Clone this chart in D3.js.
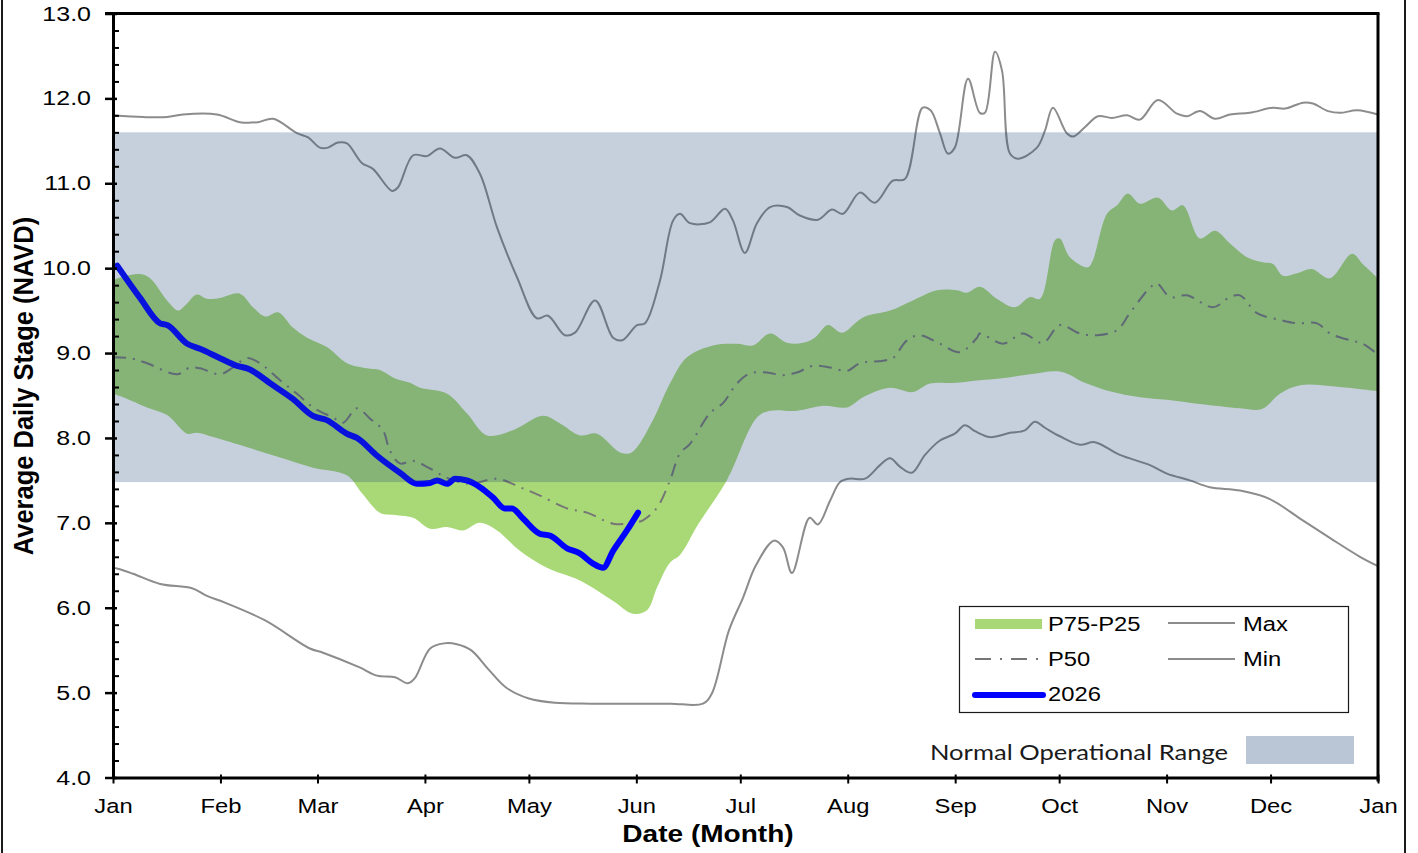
<!DOCTYPE html>
<html>
<head>
<meta charset="utf-8">
<script src="https://cdn.jsdelivr.net/npm/d3@7"></script>
<style>
    html, body { margin: 0; padding: 0; background: #ffffff; }
    svg { display: block; }
</style>
</head>
<body>
<svg id="chart"></svg>
<script>
// ---- data (day of year, stage in ft NAVD) ----
const monthLabels = ['Jan', 'Feb', 'Mar', 'Apr', 'May', 'Jun', 'Jul', 'Aug', 'Sep', 'Oct', 'Nov', 'Dec', 'Jan'];
const monthStartDays = [0, 31, 59, 90, 120, 151, 181, 212, 243, 273, 304, 334, 365];
const yTicks = [4, 5, 6, 7, 8, 9, 10, 11, 12, 13];
const normalRange = [7.48, 11.6];

const maxStage = [[0, 11.80], [8.7, 11.78], [15.6, 11.78], [20.2, 11.81], [30, 11.81], [36.6, 11.72], [41.8, 11.72], [46.2, 11.76], [53.1, 11.59], [56.3, 11.54], [59.7, 11.42], [62, 11.42], [64.9, 11.48], [67.5, 11.47], [71.8, 11.24], [75, 11.17], [80.5, 10.91], [82.2, 10.95], [86.6, 11.33], [90.6, 11.32], [94.3, 11.41], [98.7, 11.30], [102.1, 11.33], [105.9, 11.11], [110.8, 10.48], [116.6, 9.89], [122.3, 9.41], [125.5, 9.44], [130.4, 9.21], [133.3, 9.24], [139.1, 9.62], [144.3, 9.18], [146.9, 9.15], [151.2, 9.33], [153.5, 9.35], [157.8, 9.85], [161.6, 10.56], [163.6, 10.64], [166.5, 10.53], [172.2, 10.54], [176.6, 10.70], [178.9, 10.56], [182.3, 10.18], [185.8, 10.53], [189.6, 10.72], [194.5, 10.72], [198.2, 10.62], [203.4, 10.57], [207.4, 10.69], [210.6, 10.64], [215.5, 10.89], [219.8, 10.77], [225, 11.03], [228.5, 11.05], [233.6, 11.89], [235.9, 11.86], [238.6, 11.59], [240.9, 11.35], [242.9, 11.42], [246.7, 12.23], [250.1, 11.83], [251.6, 11.83], [254.5, 12.55], [256.5, 12.33], [258.8, 11.35], [261.1, 11.29], [266.6, 11.42], [268.9, 11.62], [271.2, 11.89], [275.2, 11.59], [277, 11.55], [280.4, 11.66], [284.2, 11.79], [288.2, 11.77], [292.6, 11.80], [296.3, 11.75], [301.5, 11.98], [307, 11.82], [309.9, 11.79], [313.6, 11.85], [318, 11.76], [322.3, 11.81], [328, 11.83], [334.7, 11.89], [338.2, 11.88], [343.4, 11.95], [346.2, 11.94], [350.6, 11.85], [354.1, 11.83], [359, 11.86], [365, 11.81]];

const minStage = [[0, 6.47], [1.4, 6.46], [5.8, 6.40], [13.6, 6.28], [22.8, 6.23], [27.1, 6.14], [32.3, 6.06], [43.9, 5.85], [56.8, 5.52], [60.6, 5.47], [71, 5.30], [76.2, 5.20], [81.4, 5.18], [85.1, 5.11], [87.1, 5.17], [91.5, 5.52], [95.5, 5.58], [99.2, 5.57], [103.3, 5.50], [108.2, 5.28], [113.4, 5.06], [120, 4.93], [127.5, 4.88], [137.9, 4.87], [150.9, 4.87], [161, 4.87], [170.2, 4.87], [172.8, 4.99], [177.7, 5.73], [181.8, 6.12], [185.5, 6.50], [190.7, 6.79], [193.3, 6.71], [195.9, 6.41], [201, 7.06], [203.4, 6.98], [206.9, 7.26], [209.8, 7.48], [212.6, 7.52], [217, 7.52], [221.3, 7.68], [224.2, 7.76], [227.1, 7.66], [230.5, 7.59], [234.3, 7.80], [238.6, 7.97], [242.9, 8.05], [245.8, 8.15], [248.7, 8.08], [253, 8.01], [258.8, 8.06], [263.1, 8.09], [266, 8.19], [268.9, 8.12], [273.2, 8.02], [279, 7.92], [283.3, 7.95], [290.5, 7.80], [299.2, 7.68], [304.1, 7.58], [310.7, 7.50], [316.5, 7.42], [325.2, 7.38], [333.8, 7.28], [342.5, 7.05], [351.2, 6.82], [359.8, 6.60], [365, 6.49]];

const p75Stage = [[0, 9.85], [1.4, 9.88], [7.8, 9.93], [10.7, 9.88], [15.6, 9.62], [18.8, 9.50], [20.8, 9.56], [24.2, 9.69], [27.1, 9.64], [30.9, 9.65], [36.6, 9.70], [40.4, 9.54], [43.9, 9.43], [47.6, 9.48], [51.9, 9.30], [56, 9.18], [61.7, 9.07], [67.5, 8.88], [73.3, 8.82], [77, 8.80], [81.4, 8.70], [85.7, 8.65], [88.6, 8.59], [96.4, 8.52], [102.1, 8.29], [107.9, 8.03], [115.4, 8.09], [124.1, 8.26], [129, 8.17], [134.7, 8.03], [139.6, 8.05], [146.3, 7.83], [149.2, 7.82], [151.2, 7.89], [155.8, 8.21], [160.7, 8.64], [165.6, 8.95], [173.1, 9.09], [180, 9.11], [184.6, 9.09], [189.6, 9.23], [194.5, 9.12], [199.1, 9.12], [202.5, 9.18], [206.3, 9.33], [210.3, 9.24], [216.4, 9.42], [224.2, 9.50], [230.8, 9.62], [237.7, 9.74], [243.5, 9.74], [246.4, 9.71], [250.1, 9.78], [255, 9.64], [260.2, 9.54], [264.6, 9.66], [267.5, 9.64], [271.8, 10.33], [273.2, 10.35], [276.1, 10.13], [281.3, 10.01], [282.7, 10.09], [286.8, 10.64], [289.7, 10.74], [292.8, 10.88], [296.3, 10.76], [301.5, 10.83], [305.5, 10.68], [308.7, 10.74], [313.6, 10.35], [318, 10.44], [322.3, 10.29], [327.2, 10.13], [331.8, 10.07], [334.7, 10.05], [337.6, 9.91], [341.6, 9.94], [345.9, 9.99], [351.1, 9.88], [357.5, 10.17], [360.6, 10.05], [365, 9.88]];

const p25Stage = [[0, 8.52], [2.9, 8.48], [9.8, 8.36], [15.6, 8.27], [21.4, 8.05], [24.2, 8.06], [28.9, 8.01], [38.7, 7.89], [48.2, 7.77], [57.7, 7.65], [67.5, 7.56], [71.8, 7.35], [77, 7.12], [81.9, 7.09], [86.6, 7.06], [91.5, 6.93], [96.4, 6.95], [101, 6.91], [105.9, 7.00], [110.8, 6.91], [117.4, 6.67], [125.2, 6.47], [134.7, 6.32], [144.3, 6.08], [150, 5.93], [154.1, 5.97], [157, 6.24], [160.7, 6.53], [163.6, 6.62], [168.8, 6.98], [177.1, 7.50], [185.8, 8.24], [189.6, 8.32], [197.3, 8.32], [204.8, 8.38], [211.8, 8.36], [216.4, 8.48], [224.2, 8.59], [230.8, 8.54], [235.7, 8.64], [243.5, 8.65], [250.1, 8.68], [255.9, 8.70], [264.6, 8.75], [273.5, 8.78], [280.4, 8.65], [287.6, 8.55], [296.3, 8.48], [304.1, 8.45], [313.6, 8.40], [325.2, 8.35], [331.5, 8.34], [336.7, 8.52], [342.5, 8.62], [354, 8.60], [365, 8.55]];

const p50Stage = [[0, 8.95], [4.9, 8.94], [9.8, 8.88], [18.5, 8.75], [22.2, 8.83], [25.1, 8.82], [30.9, 8.75], [34.6, 8.83], [38.7, 8.94], [42.4, 8.88], [48.2, 8.68], [53.1, 8.52], [57.7, 8.36], [63.5, 8.24], [66.4, 8.18], [70.4, 8.35], [74.1, 8.23], [77.9, 8.09], [79.9, 7.85], [82.8, 7.70], [86.6, 7.73], [91.5, 7.64], [96.4, 7.53], [103, 7.46], [110.8, 7.52], [117.4, 7.42], [123.2, 7.32], [131, 7.17], [136.8, 7.12], [144.3, 6.99], [150, 7.00], [152.9, 7.03], [157, 7.18], [160.7, 7.50], [163.6, 7.82], [166.5, 7.93], [172.2, 8.29], [176, 8.41], [180, 8.64], [183.8, 8.76], [188.7, 8.77], [193.3, 8.74], [197.3, 8.77], [202, 8.85], [206.9, 8.83], [211.8, 8.79], [215.5, 8.88], [222.2, 8.91], [225, 8.94], [229.1, 9.15], [232.8, 9.21], [238.6, 9.11], [244.4, 9.01], [249.3, 9.18], [250.1, 9.23], [256.8, 9.11], [262.5, 9.23], [268.3, 9.12], [273.2, 9.33], [279, 9.23], [283.9, 9.21], [289.7, 9.27], [293.4, 9.47], [299.2, 9.77], [301.2, 9.82], [305, 9.66], [309.9, 9.68], [317.4, 9.54], [322.3, 9.66], [325.2, 9.68], [330.1, 9.47], [336.7, 9.39], [341.6, 9.35], [347.4, 9.35], [351.2, 9.23], [357, 9.15], [360.6, 9.11], [365, 8.98]];

const stage2026 = [[1.2, 10.03], [7.8, 9.65], [13.6, 9.35], [15.6, 9.33], [21.4, 9.11], [25.1, 9.05], [30.9, 8.94], [35.8, 8.85], [38.7, 8.82], [46.2, 8.62], [51.9, 8.46], [57.7, 8.26], [61.7, 8.21], [67.5, 8.05], [70.4, 8.00], [76.2, 7.79], [82.8, 7.59], [87.7, 7.46], [91.5, 7.47], [93.5, 7.50], [96.4, 7.46], [98.7, 7.52], [102.1, 7.50], [105.9, 7.42], [109.6, 7.30], [113.1, 7.17], [115.1, 7.17], [118.3, 7.05], [123.2, 6.87], [126.1, 6.85], [131, 6.70], [134.7, 6.64], [138.5, 6.52], [141.4, 6.47], [144.3, 6.67], [148.3, 6.91], [151.5, 7.12]];

// ---- layout ----
const WIDTH = 1418;
const HEIGHT = 853;
const PLOT = {left: 113, right: 1378, top: 13.5, bottom: 777.5};
const FONT = "'Liberation Sans', Arial, sans-serif";
const SX = 1.22;   // the reference text is stretched horizontally

const svg = d3.select('#chart')
    .attr('width', WIDTH)
    .attr('height', HEIGHT)
    .style('background', '#ffffff');

const x = d3.scaleLinear().domain([0, 365]).range([PLOT.left, PLOT.right]);
const y = d3.scaleLinear().domain([4, 13]).range([PLOT.bottom, PLOT.top]);

// outer chart frame
svg.append('rect')
    .attr('x', 2).attr('y', -10)
    .attr('width', 1403).attr('height', HEIGHT + 20)
    .attr('fill', 'none')
    .attr('stroke', '#1a1a1a')
    .attr('stroke-width', 2);

/**
 * Helper to add a horizontally stretched text label.
 */
function addText(parent, px, py, str, opts = {}) {
    const sx = opts.sx || SX;
    const g = parent.append('g')
        .attr('transform', `translate(${px}, ${py}) scale(${sx}, 1)${opts.rotate ? ` rotate(${opts.rotate})` : ''}`);
    return g.append('text')
        .attr('text-anchor', opts.anchor || 'start')
        .attr('font-family', opts.family || FONT)
        .attr('font-size', opts.size || '19.5px')
        .attr('font-weight', opts.weight || 'normal')
        .attr('fill', opts.fill || '#000000')
        .text(str);
}

const curve = d3.curveCatmullRom.alpha(0.5);
const lineGen = d3.line()
    .x(d => x(d[0]))
    .y(d => y(d[1]))
    .curve(curve);

const plot = svg.append('g');

// P75-P25 band: upper edge forward, lower edge back
const upper = lineGen(p75Stage);
const lower = lineGen(p25Stage.slice().reverse()).replace(/^M/, 'L');
plot.append('path')
    .attr('d', upper + lower + 'Z')
    .attr('fill', '#a9d977');

plot.append('path')
    .attr('d', lineGen(maxStage))
    .attr('fill', 'none')
    .attr('stroke', '#8c8c8c')
    .attr('stroke-width', 2);

plot.append('path')
    .attr('d', lineGen(minStage))
    .attr('fill', 'none')
    .attr('stroke', '#8c8c8c')
    .attr('stroke-width', 2);

plot.append('path')
    .attr('d', lineGen(p50Stage))
    .attr('fill', 'none')
    .attr('stroke', '#767676')
    .attr('stroke-width', 2)
    .attr('stroke-dasharray', '13,7,2,7');

plot.append('path')
    .attr('d', d3.line().x(d => x(d[0])).y(d => y(d[1])).curve(d3.curveMonotoneX)(stage2026))
    .attr('fill', 'none')
    .attr('stroke', '#0000ff')
    .attr('stroke-width', 6)
    .attr('stroke-linejoin', 'round')
    .attr('stroke-linecap', 'round');

// normal operational range, drawn over the data as a translucent band
plot.append('rect')
    .attr('x', x(0))
    .attr('y', y(normalRange[1]))
    .attr('width', x(365) - x(0))
    .attr('height', y(normalRange[0]) - y(normalRange[1]))
    .attr('fill', '#1f4776')
    .attr('opacity', 0.256);

// ---- axes ----
const yAxis = svg.append('g')
    .attr('transform', `translate(${PLOT.left}, 0)`)
    .call(d3.axisLeft(y).tickValues(yTicks).tickFormat(d3.format('.1f')).tickSize(8).tickSizeOuter(0));
yAxis.select('.domain').attr('stroke-width', 3).attr('stroke', '#000');
yAxis.selectAll('.tick line').attr('x1', 4).attr('x2', -8).attr('stroke-width', 2.5).attr('stroke', '#000');
yAxis.selectAll('.tick text')
    .attr('font-family', FONT)
    .attr('font-size', '20.5px')
    .attr('fill', '#000')
    .attr('x', -22 / SX)
    .attr('transform', `scale(${SX}, 1)`);

const minorTicks = d3.range(4, 13.001, 0.2).filter(v => Math.abs(v - Math.round(v)) > 0.01);
const yMinor = svg.append('g')
    .attr('transform', `translate(${PLOT.left}, 0)`)
    .call(d3.axisRight(y).tickValues(minorTicks).tickFormat('').tickSize(6).tickSizeOuter(0));
yMinor.select('.domain').remove();
yMinor.selectAll('.tick line').attr('stroke-width', 2).attr('stroke', '#000');

const xAxis = svg.append('g')
    .attr('transform', `translate(0, ${PLOT.bottom})`)
    .call(d3.axisBottom(x).tickValues(monthStartDays).tickFormat((d, i) => monthLabels[i]).tickSize(6).tickSizeOuter(0));
xAxis.select('.domain').attr('stroke-width', 3).attr('stroke', '#000');
xAxis.selectAll('.tick line').attr('y1', -3).attr('stroke-width', 2).attr('stroke', '#000');
xAxis.selectAll('.tick text')
    .attr('font-family', FONT)
    .attr('font-size', '19.5px')
    .attr('fill', '#000')
    .attr('y', 22)
    .attr('transform', `scale(${SX}, 1)`)
    .attr('x', 0);

// top and right frame
svg.append('line')
    .attr('x1', PLOT.left - 8).attr('x2', PLOT.right + 1.5)
    .attr('y1', PLOT.top).attr('y2', PLOT.top)
    .attr('stroke', '#000').attr('stroke-width', 3);
svg.append('line')
    .attr('x1', PLOT.right).attr('x2', PLOT.right)
    .attr('y1', PLOT.top).attr('y2', PLOT.bottom + 4)
    .attr('stroke', '#000').attr('stroke-width', 3);

// axis titles
addText(svg, 708, 842, 'Date (Month)', {anchor: 'middle', weight: 'bold', size: '23px'});
addText(svg, 33, 386, 'Average Daily Stage (NAVD)', {anchor: 'middle', weight: 'bold', size: '25.5px', rotate: -90, sx: 1.05});

// ---- legend ----
const legend = svg.append('g');
legend.append('rect')
    .attr('x', 959.5).attr('y', 606.5)
    .attr('width', 389).attr('height', 106)
    .attr('fill', '#ffffff')
    .attr('stroke', '#1a1a1a')
    .attr('stroke-width', 1.2);

legend.append('rect')
    .attr('x', 975).attr('y', 619)
    .attr('width', 67).attr('height', 10)
    .attr('fill', '#a9d977');
addText(legend, 1048, 631, 'P75-P25');

legend.append('line')
    .attr('x1', 975).attr('x2', 1042).attr('y1', 659).attr('y2', 659)
    .attr('stroke', '#767676').attr('stroke-width', 2)
    .attr('stroke-dasharray', '16,9,2,9');
addText(legend, 1048, 666, 'P50');

legend.append('line')
    .attr('x1', 975).attr('x2', 1043).attr('y1', 695).attr('y2', 695)
    .attr('stroke', '#0000ff').attr('stroke-width', 6)
    .attr('stroke-linecap', 'round');
addText(legend, 1048, 701, '2026');

legend.append('line')
    .attr('x1', 1168).attr('x2', 1235).attr('y1', 623).attr('y2', 623)
    .attr('stroke', '#8c8c8c').attr('stroke-width', 2);
addText(legend, 1243, 631, 'Max');

legend.append('line')
    .attr('x1', 1168).attr('x2', 1235).attr('y1', 659).attr('y2', 659)
    .attr('stroke', '#8c8c8c').attr('stroke-width', 2);
addText(legend, 1243, 666, 'Min');

svg.append('text')
    .attr('x', 930).attr('y', 760)
    .attr('font-family', "Lato, 'Open Sans', sans-serif")
    .attr('font-size', '21px')
    .attr('fill', '#1a1a1a')
    .attr('textLength', 298)
    .attr('lengthAdjust', 'spacingAndGlyphs')
    .text('Normal Operational Range');
svg.append('rect')
    .attr('x', 1246).attr('y', 736)
    .attr('width', 108).attr('height', 28)
    .attr('fill', '#bac6d6');
</script>
</body>
</html>
